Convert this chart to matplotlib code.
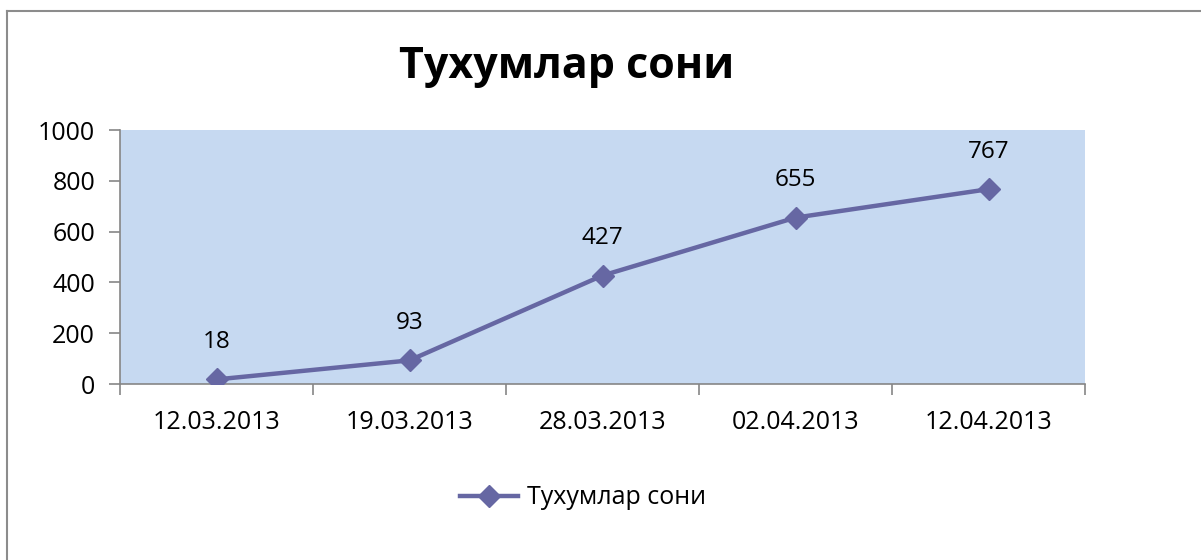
import numpy as np
import matplotlib.pyplot as plt
from matplotlib.ticker import FixedLocator

plt.rcParams['font.family'] = ['Open Sans', 'DejaVu Sans']

# data
dates = ['12.03.2013', '19.03.2013', '28.03.2013', '02.04.2013', '12.04.2013']
eggs = [18, 93, 427, 655, 767]
series_name = 'Тухумлар сони'
title = 'Тухумлар сони'

line_col = '#6667A3'
grid_col = '#868686'

W, H = 1201, 560
fig = plt.figure(figsize=(W / 100, H / 100), dpi=100)

# chart border (Excel-like frame)
fig.add_artist(plt.Line2D([7 / W, 7 / W], [0, 1 - 11 / H], color='#8C8C8C', lw=1.5))
fig.add_artist(plt.Line2D([7 / W, 1], [1 - 11 / H, 1 - 11 / H], color='#8C8C8C', lw=1.5))

ax = fig.add_axes([120 / W, 1 - 384 / H, (1085 - 120) / W, (384 - 130) / H])
ax.set_facecolor('#C6D9F1')

x = np.arange(len(dates))
ax.plot(x, eggs, color=line_col, lw=3.2, marker='D', ms=11, mfc=line_col, mec=line_col,
        label=series_name, zorder=3)

for xi, v in zip(x, eggs):
    ax.annotate(str(v), (xi, v), xytext=(0, 27), textcoords='offset points',
                ha='center', va='center', fontsize=17.5, color='black')

ax.set_xlim(-0.5, len(dates) - 0.5)
ax.set_ylim(0, 1000)
ax.set_yticks(np.arange(0, 1001, 200))
ax.set_xticks(x)
ax.set_xticklabels(dates)
ax.xaxis.set_minor_locator(FixedLocator(np.arange(-0.5, len(dates), 1)))

for s in ['top', 'right']:
    ax.spines[s].set_visible(False)
for s in ['left', 'bottom']:
    ax.spines[s].set_color(grid_col)
    ax.spines[s].set_linewidth(1.2)

ax.tick_params(axis='y', length=8, width=1.2, color=grid_col, labelsize=18, pad=10)
ax.tick_params(axis='x', which='major', length=0, labelsize=18, pad=19)
ax.tick_params(axis='x', which='minor', length=8, width=1.2, color=grid_col)

fig.text(567 / W, 1 - 67 / H, title, ha='center', va='center', fontsize=31, fontweight='bold')

leg = fig.legend(loc='center', bbox_to_anchor=(583 / W, 1 - 498 / H), frameon=False,
                 fontsize=18, handlelength=2.3, handletextpad=0.36)

fig.savefig('out.png', dpi=100)
